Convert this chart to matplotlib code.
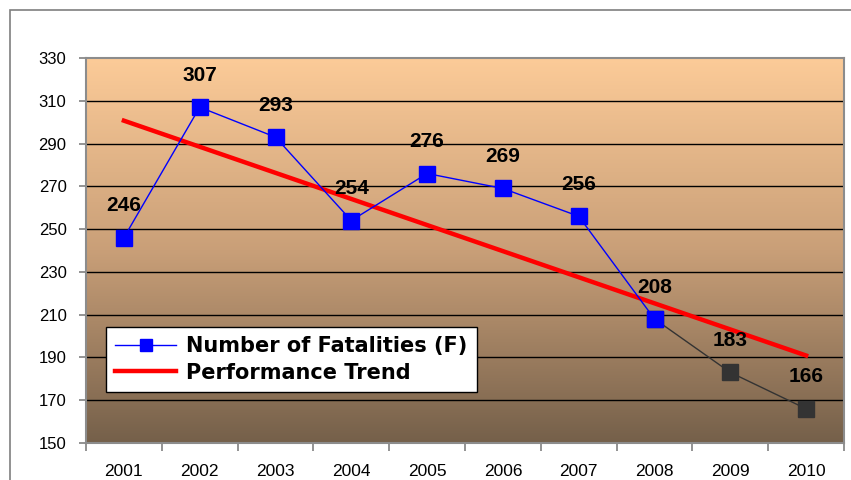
import numpy as np
import matplotlib.pyplot as plt
from matplotlib.colors import LinearSegmentedColormap
from matplotlib.patches import Rectangle

years = ['2001', '2002', '2003', '2004', '2005', '2006', '2007', '2008', '2009', '2010']
fatalities = [246, 307, 293, 254, 276, 269, 256, 208, 183, 166]
trend_ends = [300.7, 190.9]  # trend line value at 2001 and at 2010
y_ticks = [150, 170, 190, 210, 230, 250, 270, 290, 310, 330]

plt.rcParams['font.family'] = ['Liberation Sans', 'DejaVu Sans']

fig = plt.figure(figsize=(8.51, 4.8), dpi=100)
fig.patch.set_facecolor('white')
# outer chart border
fig.patches.append(Rectangle((9.5 / 851, -0.1), 1.2, 1.1 - 9.5 / 480,
                             transform=fig.transFigure, fill=False,
                             edgecolor='#7f7f7f', linewidth=1.2))

ax = fig.add_axes([86 / 851, 37 / 480, 758 / 851, 385 / 480])
x = np.arange(len(years))
ax.set_xlim(-0.5, len(years) - 0.5)
ax.set_ylim(150, 330)

# gradient background of plot area, light at top, dark at bottom
cmap = LinearSegmentedColormap.from_list('bg', ['#fccb98', '#c99f78', '#75604a'])
grad = np.linspace(0, 1, 256).reshape(-1, 1)
ax.imshow(grad, cmap=cmap, aspect='auto', extent=(-0.5, len(years) - 0.5, 150, 330),
          zorder=0, origin='upper')

for t in y_ticks[1:-1]:
    ax.axhline(t, color='black', linewidth=1.0, zorder=1)

# fatalities line
ax.plot(x[7:], fatalities[7:], color='#333333', linewidth=1.0, marker='s',
        markersize=11, markerfacecolor='#333333', markeredgecolor='#333333', zorder=3)
ax.plot(x[:8], fatalities[:8], color='#0000ff', linewidth=1.0, marker='s',
        markersize=11, markerfacecolor='#0000ff', markeredgecolor='#0000ff', zorder=4,
        label='Number of Fatalities (F)')
ax.plot([x[0], x[-1]], trend_ends, color='#ff0000', linewidth=3.2, zorder=3,
        label='Performance Trend')

for xi, v in zip(x, fatalities):
    ax.annotate(str(v), (xi, v), xytext=(0, 23), textcoords='offset points',
                ha='center', va='center', fontsize=15, fontweight='bold', zorder=5)

ax.set_yticks(y_ticks)
ax.set_yticklabels([str(t) for t in y_ticks], fontsize=12)
ax.set_xticks(x)
ax.set_xticklabels(years, fontsize=12.5)
ax.set_xticks(np.arange(-0.5, len(years)), minor=True)
ax.tick_params(axis='x', which='major', length=0, pad=15)
ax.tick_params(axis='x', which='minor', length=6, color='#808080', width=1.2)
ax.tick_params(axis='y', length=5, color='#808080', width=1.2, pad=9)

for s in ax.spines.values():
    s.set_color('#8c8c8c')
    s.set_linewidth(1.5)

leg = ax.legend(loc='lower left', bbox_to_anchor=(20 / 758, 51 / 385), borderaxespad=0,
                prop={'size': 15, 'weight': 'bold', 'family': 'DejaVu Sans'},
                handlelength=2.9, markerscale=0.75,
                fancybox=False, framealpha=1, edgecolor='black', labelspacing=0.3,
                borderpad=0.45, handletextpad=0.5)
leg.get_frame().set_linewidth(1.0)
leg.set_zorder(6)

fig.savefig('out.png', dpi=100)
